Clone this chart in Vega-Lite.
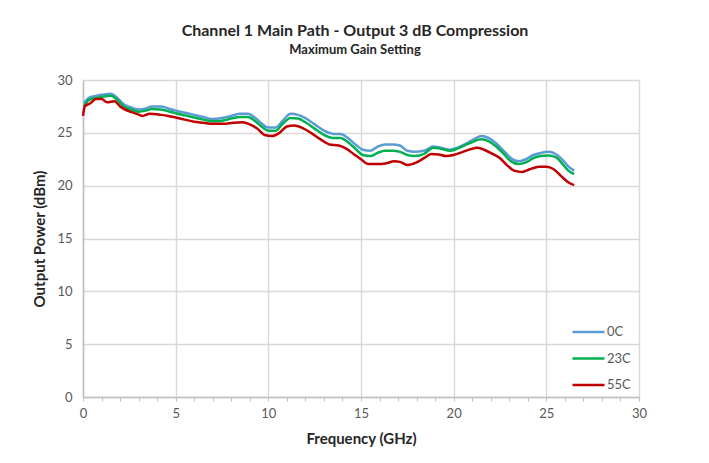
{
  "$schema": "https://vega.github.io/schema/vega-lite/v6.json",
  "width": 556,
  "height": 317,
  "autosize": {"type": "none"},
  "padding": {"left": 83, "top": 80, "right": 70, "bottom": 66},
  "background": "white",
  "config": {
    "font": "Lato",
    "view": {"stroke": null},
    "axis": {
      "labelFont": "Lato",
      "labelFontSize": 13,
      "labelColor": "#595959",
      "titleFont": "Lato",
      "titleFontSize": 15,
      "titleFontWeight": "bold",
      "titleColor": "#262626",
      "gridColor": "#d9d9d9",
      "gridWidth": 1.5,
      "domainColor": "#bfbfbf",
      "domainWidth": 1.5,
      "tickColor": "#bfbfbf"
    }
  },
  "title": {
    "text": "Channel 1 Main Path - Output 3 dB Compression",
    "subtitle": "Maximum Gain Setting",
    "fontSize": 16,
    "fontWeight": "bold",
    "color": "#262626",
    "subtitleFontSize": 13,
    "subtitleFontWeight": "bold",
    "subtitleColor": "#262626",
    "subtitlePadding": 5,
    "anchor": "middle",
    "dx": -6,
    "offset": 17,
    "font": "Lato",
    "subtitleFont": "Lato"
  },
  "data": {
    "values": [
      {"f": 0.05, "s": "0C", "p": 27.8}, {"f": 0.3, "s": "0C", "p": 28.3}, {"f": 0.7, "s": "0C", "p": 28.5}, {"f": 1.0, "s": "0C", "p": 28.6}, {"f": 1.5, "s": "0C", "p": 28.7}, {"f": 1.8, "s": "0C", "p": 28.4}, {"f": 2.2, "s": "0C", "p": 27.7}, {"f": 2.6, "s": "0C", "p": 27.4}, {"f": 3.0, "s": "0C", "p": 27.2}, {"f": 3.4, "s": "0C", "p": 27.3}, {"f": 3.7, "s": "0C", "p": 27.5}, {"f": 4.2, "s": "0C", "p": 27.5}, {"f": 4.6, "s": "0C", "p": 27.3}, {"f": 5.0, "s": "0C", "p": 27.1}, {"f": 5.5, "s": "0C", "p": 26.9}, {"f": 6.0, "s": "0C", "p": 26.7}, {"f": 6.5, "s": "0C", "p": 26.5}, {"f": 7.0, "s": "0C", "p": 26.3}, {"f": 7.5, "s": "0C", "p": 26.4}, {"f": 8.0, "s": "0C", "p": 26.6}, {"f": 8.5, "s": "0C", "p": 26.8}, {"f": 8.9, "s": "0C", "p": 26.8}, {"f": 9.3, "s": "0C", "p": 26.4}, {"f": 9.7, "s": "0C", "p": 25.8}, {"f": 10.0, "s": "0C", "p": 25.5}, {"f": 10.4, "s": "0C", "p": 25.5}, {"f": 10.8, "s": "0C", "p": 26.2}, {"f": 11.2, "s": "0C", "p": 26.8}, {"f": 11.6, "s": "0C", "p": 26.7}, {"f": 12.0, "s": "0C", "p": 26.4}, {"f": 12.5, "s": "0C", "p": 25.8}, {"f": 13.0, "s": "0C", "p": 25.2}, {"f": 13.5, "s": "0C", "p": 24.9}, {"f": 13.9, "s": "0C", "p": 24.9}, {"f": 14.3, "s": "0C", "p": 24.5}, {"f": 14.7, "s": "0C", "p": 23.9}, {"f": 15.1, "s": "0C", "p": 23.4}, {"f": 15.5, "s": "0C", "p": 23.3}, {"f": 15.9, "s": "0C", "p": 23.7}, {"f": 16.3, "s": "0C", "p": 23.9}, {"f": 16.7, "s": "0C", "p": 23.9}, {"f": 17.1, "s": "0C", "p": 23.8}, {"f": 17.5, "s": "0C", "p": 23.3}, {"f": 17.9, "s": "0C", "p": 23.2}, {"f": 18.4, "s": "0C", "p": 23.3}, {"f": 18.9, "s": "0C", "p": 23.7}, {"f": 19.3, "s": "0C", "p": 23.6}, {"f": 19.8, "s": "0C", "p": 23.4}, {"f": 20.2, "s": "0C", "p": 23.6}, {"f": 20.7, "s": "0C", "p": 24.0}, {"f": 21.1, "s": "0C", "p": 24.4}, {"f": 21.5, "s": "0C", "p": 24.7}, {"f": 21.9, "s": "0C", "p": 24.5}, {"f": 22.3, "s": "0C", "p": 24.0}, {"f": 22.7, "s": "0C", "p": 23.3}, {"f": 23.1, "s": "0C", "p": 22.6}, {"f": 23.5, "s": "0C", "p": 22.3}, {"f": 23.9, "s": "0C", "p": 22.5}, {"f": 24.3, "s": "0C", "p": 22.9}, {"f": 24.7, "s": "0C", "p": 23.1}, {"f": 25.1, "s": "0C", "p": 23.2}, {"f": 25.5, "s": "0C", "p": 23.0}, {"f": 25.9, "s": "0C", "p": 22.4}, {"f": 26.2, "s": "0C", "p": 21.8}, {"f": 26.5, "s": "0C", "p": 21.4},
      {"f": 0.05, "s": "23C", "p": 27.5}, {"f": 0.3, "s": "23C", "p": 28.1}, {"f": 0.7, "s": "23C", "p": 28.3}, {"f": 1.0, "s": "23C", "p": 28.4}, {"f": 1.5, "s": "23C", "p": 28.5}, {"f": 1.8, "s": "23C", "p": 28.2}, {"f": 2.2, "s": "23C", "p": 27.5}, {"f": 2.6, "s": "23C", "p": 27.2}, {"f": 3.0, "s": "23C", "p": 27.0}, {"f": 3.4, "s": "23C", "p": 27.1}, {"f": 3.7, "s": "23C", "p": 27.25}, {"f": 4.2, "s": "23C", "p": 27.2}, {"f": 4.6, "s": "23C", "p": 27.05}, {"f": 5.0, "s": "23C", "p": 26.85}, {"f": 5.5, "s": "23C", "p": 26.65}, {"f": 6.0, "s": "23C", "p": 26.45}, {"f": 6.5, "s": "23C", "p": 26.25}, {"f": 7.0, "s": "23C", "p": 26.1}, {"f": 7.5, "s": "23C", "p": 26.15}, {"f": 8.0, "s": "23C", "p": 26.35}, {"f": 8.5, "s": "23C", "p": 26.5}, {"f": 8.9, "s": "23C", "p": 26.5}, {"f": 9.3, "s": "23C", "p": 26.1}, {"f": 9.7, "s": "23C", "p": 25.5}, {"f": 10.0, "s": "23C", "p": 25.2}, {"f": 10.4, "s": "23C", "p": 25.2}, {"f": 10.8, "s": "23C", "p": 25.9}, {"f": 11.2, "s": "23C", "p": 26.4}, {"f": 11.6, "s": "23C", "p": 26.35}, {"f": 12.0, "s": "23C", "p": 26.0}, {"f": 12.5, "s": "23C", "p": 25.4}, {"f": 13.0, "s": "23C", "p": 24.8}, {"f": 13.5, "s": "23C", "p": 24.5}, {"f": 13.9, "s": "23C", "p": 24.5}, {"f": 14.3, "s": "23C", "p": 24.1}, {"f": 14.7, "s": "23C", "p": 23.5}, {"f": 15.1, "s": "23C", "p": 22.9}, {"f": 15.5, "s": "23C", "p": 22.8}, {"f": 15.9, "s": "23C", "p": 23.1}, {"f": 16.3, "s": "23C", "p": 23.3}, {"f": 16.7, "s": "23C", "p": 23.3}, {"f": 17.1, "s": "23C", "p": 23.2}, {"f": 17.5, "s": "23C", "p": 22.9}, {"f": 17.9, "s": "23C", "p": 22.8}, {"f": 18.4, "s": "23C", "p": 23.0}, {"f": 18.9, "s": "23C", "p": 23.6}, {"f": 19.3, "s": "23C", "p": 23.5}, {"f": 19.8, "s": "23C", "p": 23.3}, {"f": 20.2, "s": "23C", "p": 23.5}, {"f": 20.7, "s": "23C", "p": 23.9}, {"f": 21.1, "s": "23C", "p": 24.2}, {"f": 21.5, "s": "23C", "p": 24.4}, {"f": 21.9, "s": "23C", "p": 24.2}, {"f": 22.3, "s": "23C", "p": 23.7}, {"f": 22.7, "s": "23C", "p": 23.0}, {"f": 23.1, "s": "23C", "p": 22.3}, {"f": 23.5, "s": "23C", "p": 22.05}, {"f": 23.9, "s": "23C", "p": 22.2}, {"f": 24.3, "s": "23C", "p": 22.6}, {"f": 24.7, "s": "23C", "p": 22.8}, {"f": 25.1, "s": "23C", "p": 22.85}, {"f": 25.5, "s": "23C", "p": 22.7}, {"f": 25.9, "s": "23C", "p": 22.0}, {"f": 26.2, "s": "23C", "p": 21.4}, {"f": 26.5, "s": "23C", "p": 21.1},
      {"f": 0.0, "s": "55C", "p": 26.6}, {"f": 0.1, "s": "55C", "p": 27.5}, {"f": 0.4, "s": "55C", "p": 27.8}, {"f": 0.7, "s": "55C", "p": 28.2}, {"f": 1.0, "s": "55C", "p": 28.2}, {"f": 1.3, "s": "55C", "p": 27.9}, {"f": 1.7, "s": "55C", "p": 28.0}, {"f": 2.0, "s": "55C", "p": 27.5}, {"f": 2.4, "s": "55C", "p": 27.1}, {"f": 2.9, "s": "55C", "p": 26.8}, {"f": 3.2, "s": "55C", "p": 26.6}, {"f": 3.6, "s": "55C", "p": 26.8}, {"f": 4.2, "s": "55C", "p": 26.7}, {"f": 4.6, "s": "55C", "p": 26.6}, {"f": 5.0, "s": "55C", "p": 26.45}, {"f": 5.5, "s": "55C", "p": 26.25}, {"f": 6.0, "s": "55C", "p": 26.05}, {"f": 6.5, "s": "55C", "p": 25.95}, {"f": 7.0, "s": "55C", "p": 25.85}, {"f": 7.6, "s": "55C", "p": 25.85}, {"f": 8.1, "s": "55C", "p": 25.95}, {"f": 8.6, "s": "55C", "p": 26.0}, {"f": 9.0, "s": "55C", "p": 25.8}, {"f": 9.4, "s": "55C", "p": 25.4}, {"f": 9.8, "s": "55C", "p": 24.8}, {"f": 10.2, "s": "55C", "p": 24.7}, {"f": 10.6, "s": "55C", "p": 25.0}, {"f": 11.0, "s": "55C", "p": 25.6}, {"f": 11.4, "s": "55C", "p": 25.7}, {"f": 11.8, "s": "55C", "p": 25.5}, {"f": 12.3, "s": "55C", "p": 25.0}, {"f": 12.8, "s": "55C", "p": 24.4}, {"f": 13.3, "s": "55C", "p": 23.9}, {"f": 13.8, "s": "55C", "p": 23.8}, {"f": 14.2, "s": "55C", "p": 23.5}, {"f": 14.6, "s": "55C", "p": 23.0}, {"f": 15.0, "s": "55C", "p": 22.5}, {"f": 15.4, "s": "55C", "p": 22.05}, {"f": 15.9, "s": "55C", "p": 22.05}, {"f": 16.3, "s": "55C", "p": 22.1}, {"f": 16.8, "s": "55C", "p": 22.3}, {"f": 17.1, "s": "55C", "p": 22.25}, {"f": 17.5, "s": "55C", "p": 21.95}, {"f": 18.0, "s": "55C", "p": 22.2}, {"f": 18.4, "s": "55C", "p": 22.6}, {"f": 18.8, "s": "55C", "p": 23.0}, {"f": 19.2, "s": "55C", "p": 22.95}, {"f": 19.6, "s": "55C", "p": 22.8}, {"f": 20.0, "s": "55C", "p": 22.9}, {"f": 20.5, "s": "55C", "p": 23.2}, {"f": 20.9, "s": "55C", "p": 23.45}, {"f": 21.3, "s": "55C", "p": 23.6}, {"f": 21.7, "s": "55C", "p": 23.35}, {"f": 22.1, "s": "55C", "p": 23.0}, {"f": 22.5, "s": "55C", "p": 22.6}, {"f": 22.9, "s": "55C", "p": 21.9}, {"f": 23.3, "s": "55C", "p": 21.4}, {"f": 23.7, "s": "55C", "p": 21.3}, {"f": 24.1, "s": "55C", "p": 21.55}, {"f": 24.6, "s": "55C", "p": 21.8}, {"f": 25.0, "s": "55C", "p": 21.8}, {"f": 25.4, "s": "55C", "p": 21.55}, {"f": 25.8, "s": "55C", "p": 20.9}, {"f": 26.2, "s": "55C", "p": 20.3}, {"f": 26.5, "s": "55C", "p": 20.05}
    ]
  },
  "mark": {"type": "line", "interpolate": "monotone", "strokeWidth": 2.5},
  "encoding": {
    "x": {
      "field": "f",
      "type": "quantitative",
      "scale": {"domain": [0, 30], "nice": false},
      "axis": {
        "title": "Frequency (GHz)",
        "values": [0,1,2,3,4,5,6,7,8,9,10,11,12,13,14,15,16,17,18,19,20,21,22,23,24,25,26,27,28,29,30],
        "labelExpr": "datum.value % 5 === 0 ? datum.label : ''",
        "gridOpacity": {"condition": {"test": "datum.value % 5 === 0", "value": 1}, "value": 0},
        "tickSize": 4,
        "labelPadding": 6,
        "labelFlush": false,
        "labelOverlap": false,
        "titlePadding": 11
      }
    },
    "y": {
      "field": "p",
      "type": "quantitative",
      "scale": {"domain": [0, 30], "nice": false, "zero": true},
      "axis": {
        "title": "Output Power (dBm)",
        "values": [0, 5, 10, 15, 20, 25, 30],
        "ticks": false,
        "labelPadding": 11,
        "titlePadding": 9
      }
    },
    "color": {
      "field": "s",
      "type": "nominal",
      "scale": {"domain": ["0C", "23C", "55C"], "range": ["#5b9bd5", "#00b050", "#c00000"]},
      "legend": {
        "title": null,
        "orient": "none",
        "legendX": 488,
        "legendY": 244,
        "padding": 0,
        "symbolType": "stroke",
        "symbolSize": 1024,
        "symbolStrokeWidth": 2.5,
        "clipHeight": 16,
        "rowPadding": 10.5,
        "labelOffset": 1,
        "labelFont": "Lato",
        "labelFontSize": 13,
        "labelColor": "#595959"
      }
    }
  }
}
